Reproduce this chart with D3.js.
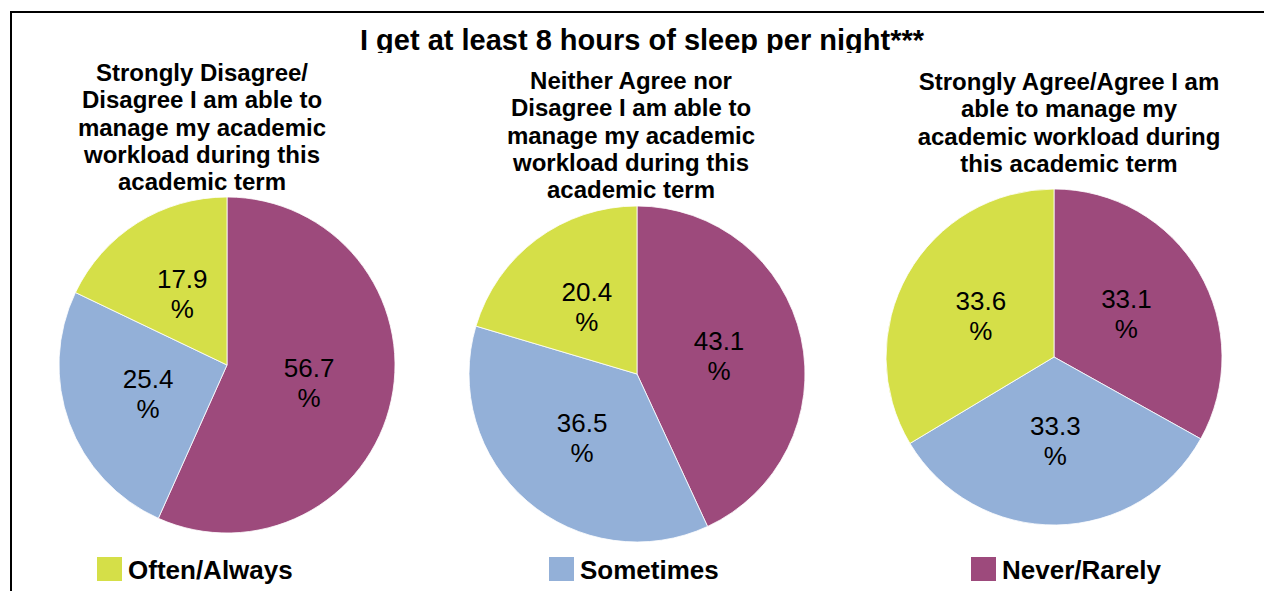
<!DOCTYPE html>
<html><head><meta charset="utf-8">
<script src="https://cdn.jsdelivr.net/npm/d3@7"></script>
<style>html,body{margin:0;padding:0;background:#fff;overflow:hidden}</style>
</head><body><svg id="chart" width="1264" height="591"></svg>
<script>
// ---- data ----
const title = "I get at least 8 hours of sleep per night***";
const groups = ["Strongly Disagree/Disagree", "Neither Agree nor Disagree", "Strongly Agree/Agree"];
const groupTitles = [
  ["Strongly Disagree/", "Disagree I am able to", "manage my academic", "workload during this", "academic term"],
  ["Neither Agree nor", "Disagree I am able to", "manage my academic", "workload during this", "academic term"],
  ["Strongly Agree/Agree I am", "able to manage my", "academic workload during", "this academic term"]
];
const categories = ["Often/Always", "Sometimes", "Never/Rarely"];
const oftenAlways = [17.9, 20.4, 33.6];
const sometimes   = [25.4, 36.5, 33.3];
const neverRarely = [56.7, 43.1, 33.1];
const colors = ["#D5DF48", "#93B0D8", "#9D4A7C"];

// ---- layout ----
const W = 1264, H = 591;
const R = 168;
const pieCenters = [[227, 365], [637, 374], [1054, 357]];
const subCenters = [[202, 81], [631, 89], [1069, 90]];
const subLineH = 27.3;
const legendX = [97, 549, 971];
const legendY = 557;

const svg = d3.select("#chart");
const color = d3.scaleOrdinal(categories, colors);

// frame
svg.append("path").attr("d", `M11,${H} L11,12 L${W},12`)
  .attr("fill", "none").attr("stroke", "#000").attr("stroke-width", 2);

// title (clipped at bottom like reference)
svg.append("clipPath").attr("id", "tclip").append("rect")
  .attr("x", 0).attr("y", 13).attr("width", W).attr("height", 40);
svg.append("text").attr("clip-path", "url(#tclip)")
  .attr("x", 642).attr("y", 50).attr("text-anchor", "middle")
  .attr("font-family", "Liberation Sans, Arial, sans-serif")
  .attr("font-weight", "bold").attr("font-size", 29).attr("fill", "#000")
  .text(title);

const pie = d3.pie().sort(null).value(d => d.value);
const arc = d3.arc().innerRadius(0).outerRadius(R);
const labelArc = d3.arc().innerRadius(R * 0.5).outerRadius(R * 0.5);

groups.forEach((g, i) => {
  const slices = [
    {cat: "Never/Rarely", value: neverRarely[i]},
    {cat: "Sometimes", value: sometimes[i]},
    {cat: "Often/Always", value: oftenAlways[i]}
  ];
  // subtitle
  const st = svg.append("text")
    .attr("text-anchor", "middle")
    .attr("font-family", "Liberation Sans, Arial, sans-serif")
    .attr("font-weight", "bold").attr("font-size", 24).attr("fill", "#000");
  groupTitles[i].forEach((line, j) => {
    st.append("tspan").attr("x", subCenters[i][0])
      .attr("y", subCenters[i][1] + j * subLineH).text(line);
  });

  const gp = svg.append("g").attr("transform", `translate(${pieCenters[i][0]},${pieCenters[i][1]})`);
  const arcs = pie(slices);
  gp.selectAll("path").data(arcs).join("path")
    .attr("d", arc).attr("fill", d => color(d.data.cat))
    .attr("stroke", "#fff").attr("stroke-width", 0.8);
  const lt = gp.selectAll("text").data(arcs).join("text")
    .attr("text-anchor", "middle")
    .attr("font-family", "Liberation Sans, Arial, sans-serif")
    .attr("font-size", 26).attr("fill", "#000");
  lt.each(function(d) {
    const [x, y] = labelArc.centroid(d);
    const t = d3.select(this);
    t.append("tspan").attr("x", x).attr("y", y - 6).text(d.data.value.toFixed(1));
    t.append("tspan").attr("x", x).attr("y", y + 24).text("%");
  });
});

// legend
const lg = svg.selectAll("g.legend").data(categories).join("g")
  .attr("class", "legend")
  .attr("transform", (d, i) => `translate(${legendX[i]},${legendY})`);
lg.append("rect").attr("width", 25).attr("height", 24).attr("fill", d => color(d));
lg.append("text").attr("x", 31).attr("y", 22)
  .attr("font-family", "Liberation Sans, Arial, sans-serif")
  .attr("font-weight", "bold").attr("font-size", 26).attr("fill", "#000")
  .text(d => d);
</script>
</body></html>
